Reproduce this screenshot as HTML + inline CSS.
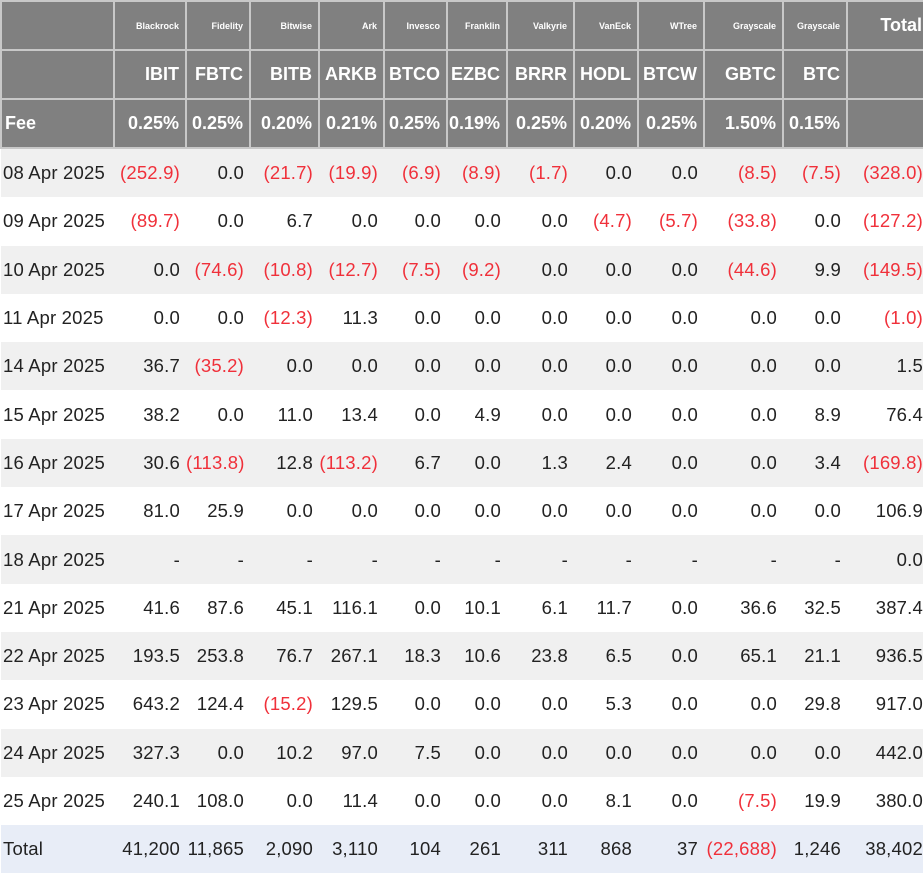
<!DOCTYPE html>
<html><head><meta charset="utf-8"><style>
body{margin:0;width:923px;height:864px;overflow:hidden;background:#fff;font-family:"Liberation Sans",Arial,sans-serif}
table{border-collapse:collapse;table-layout:fixed;width:925px}
td,th{padding:0 6px 0 0;text-align:right;white-space:nowrap;overflow:visible}
td:last-child,th:last-child{padding-right:3px}
thead th{background:#808080;color:#fff;border:2px solid #c8c8c8;font-weight:bold}
.r1 th{height:47px;font-size:9px;vertical-align:middle}
.r1 th.tot{font-size:18px}
.r2 th{height:47px;font-size:18px}
.r3 th{height:47px;font-size:18px}
.r3 th.lbl{text-align:left;padding-left:3px}
tbody td{height:48.3px;font-size:18.5px;color:#222;letter-spacing:0.2px}
tbody td:first-child{text-align:left;padding-left:2px}
tbody tr:nth-child(odd) td{background:#f0f0f0}
tbody tr:nth-child(even) td{background:#fff}
tbody tr.total td{background:#e8edf7;height:48px}
.n{color:#f0303a}
</style></head><body>
<table>
<colgroup><col style="width:113px"><col style="width:72px"><col style="width:64px"><col style="width:69px"><col style="width:65px"><col style="width:63px"><col style="width:60px"><col style="width:67px"><col style="width:64px"><col style="width:66px"><col style="width:79px"><col style="width:64px"><col style="width:79px"></colgroup>
<thead>
<tr class="r1"><th></th><th>Blackrock</th><th>Fidelity</th><th>Bitwise</th><th>Ark</th><th>Invesco</th><th>Franklin</th><th>Valkyrie</th><th>VanEck</th><th>WTree</th><th>Grayscale</th><th>Grayscale</th><th class="tot">Total</th></tr>
<tr class="r2"><th></th><th>IBIT</th><th>FBTC</th><th>BITB</th><th>ARKB</th><th>BTCO</th><th>EZBC</th><th>BRRR</th><th>HODL</th><th>BTCW</th><th>GBTC</th><th>BTC</th><th></th></tr>
<tr class="r3"><th class="lbl">Fee</th><th>0.25%</th><th>0.25%</th><th>0.20%</th><th>0.21%</th><th>0.25%</th><th>0.19%</th><th>0.25%</th><th>0.20%</th><th>0.25%</th><th>1.50%</th><th>0.15%</th><th></th></tr>
</thead>
<tbody id="tb"></tbody>
</table>
<script>
const rows=[
["08 Apr 2025","(252.9)","0.0","(21.7)","(19.9)","(6.9)","(8.9)","(1.7)","0.0","0.0","(8.5)","(7.5)","(328.0)"],
["09 Apr 2025","(89.7)","0.0","6.7","0.0","0.0","0.0","0.0","(4.7)","(5.7)","(33.8)","0.0","(127.2)"],
["10 Apr 2025","0.0","(74.6)","(10.8)","(12.7)","(7.5)","(9.2)","0.0","0.0","0.0","(44.6)","9.9","(149.5)"],
["11 Apr 2025","0.0","0.0","(12.3)","11.3","0.0","0.0","0.0","0.0","0.0","0.0","0.0","(1.0)"],
["14 Apr 2025","36.7","(35.2)","0.0","0.0","0.0","0.0","0.0","0.0","0.0","0.0","0.0","1.5"],
["15 Apr 2025","38.2","0.0","11.0","13.4","0.0","4.9","0.0","0.0","0.0","0.0","8.9","76.4"],
["16 Apr 2025","30.6","(113.8)","12.8","(113.2)","6.7","0.0","1.3","2.4","0.0","0.0","3.4","(169.8)"],
["17 Apr 2025","81.0","25.9","0.0","0.0","0.0","0.0","0.0","0.0","0.0","0.0","0.0","106.9"],
["18 Apr 2025","-","-","-","-","-","-","-","-","-","-","-","0.0"],
["21 Apr 2025","41.6","87.6","45.1","116.1","0.0","10.1","6.1","11.7","0.0","36.6","32.5","387.4"],
["22 Apr 2025","193.5","253.8","76.7","267.1","18.3","10.6","23.8","6.5","0.0","65.1","21.1","936.5"],
["23 Apr 2025","643.2","124.4","(15.2)","129.5","0.0","0.0","0.0","5.3","0.0","0.0","29.8","917.0"],
["24 Apr 2025","327.3","0.0","10.2","97.0","7.5","0.0","0.0","0.0","0.0","0.0","0.0","442.0"],
["25 Apr 2025","240.1","108.0","0.0","11.4","0.0","0.0","0.0","8.1","0.0","(7.5)","19.9","380.0"],
["Total","41,200","11,865","2,090","3,110","104","261","311","868","37","(22,688)","1,246","38,402"]];
const tb=document.getElementById('tb');
rows.forEach((r,i)=>{
  const tr=document.createElement('tr');
  
  
  if(i===rows.length-1)tr.className='total';
  r.forEach((v,j)=>{
    const td=document.createElement('td');
    td.textContent=v;
    
    
    if(v.startsWith('('))td.className='n';
    tr.appendChild(td);
  });
  tb.appendChild(tr);
});
</script>
</body></html>
